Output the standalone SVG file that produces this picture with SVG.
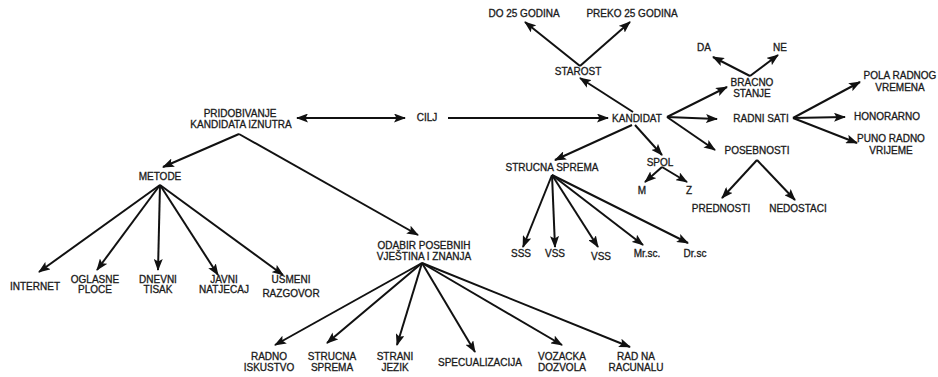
<svg xmlns="http://www.w3.org/2000/svg" width="938" height="377" viewBox="0 0 938 377">
<style>
text{font-family:"Liberation Sans",Arial,sans-serif;font-size:10px;fill:#1a1a1a;stroke:#1a1a1a;stroke-width:0.3;text-anchor:middle}
.c line{stroke:#111;stroke-width:2;marker-end:url(#ah)}
</style>
<defs>
<marker id="ah" markerUnits="userSpaceOnUse" markerWidth="12" markerHeight="9" refX="11" refY="4.5" orient="auto-start-reverse"><path d="M0,0 L12,4.5 L0,9 L2.5,4.5 z" fill="#111"/></marker>
</defs>
<rect width="938" height="377" fill="#fff"/>
<g class="c" id="connectors">
<line x1="580" y1="66" x2="525" y2="22"/>
<line x1="580" y1="66" x2="630" y2="22"/>
<line x1="633" y1="112" x2="580" y2="78"/>
<line x1="667" y1="117" x2="727" y2="87"/>
<line x1="667" y1="117" x2="717" y2="119"/>
<line x1="667" y1="117" x2="715" y2="150"/>
<line x1="750" y1="76" x2="713" y2="57"/>
<line x1="750" y1="76" x2="778" y2="55"/>
<line x1="793" y1="118" x2="860" y2="82"/>
<line x1="793" y1="118" x2="845" y2="117"/>
<line x1="793" y1="118" x2="857" y2="143"/>
<line x1="757" y1="160" x2="722" y2="198"/>
<line x1="757" y1="160" x2="795" y2="200"/>
<line x1="448" y1="118" x2="608" y2="118"/>
<line x1="297" y1="118" x2="405" y2="118" style="marker-start:url(#ah)"/>
<line x1="239" y1="134" x2="163" y2="167"/>
<line x1="239" y1="134" x2="418" y2="235"/>
<line x1="160" y1="185" x2="39" y2="272"/>
<line x1="160" y1="185" x2="97" y2="270"/>
<line x1="160" y1="185" x2="158" y2="270"/>
<line x1="160" y1="185" x2="218" y2="275"/>
<line x1="160" y1="185" x2="283" y2="275"/>
<line x1="422" y1="263" x2="275" y2="345"/>
<line x1="422" y1="263" x2="327" y2="343"/>
<line x1="422" y1="263" x2="397" y2="345"/>
<line x1="422" y1="263" x2="475" y2="352"/>
<line x1="422" y1="263" x2="562" y2="345"/>
<line x1="422" y1="263" x2="630" y2="347"/>
<line x1="632" y1="125" x2="555" y2="160"/>
<line x1="635" y1="125" x2="662" y2="155"/>
<line x1="662" y1="167" x2="645" y2="182"/>
<line x1="662" y1="167" x2="687" y2="182"/>
<line x1="552" y1="175" x2="523" y2="247"/>
<line x1="552" y1="175" x2="555" y2="247"/>
<line x1="552" y1="175" x2="598" y2="247"/>
<line x1="552" y1="175" x2="643" y2="245"/>
<line x1="552" y1="175" x2="688" y2="243"/>
</g>
<g id="do25"><text x="524" y="17">DO 25 GODINA</text></g>
<g id="preko25"><text x="632" y="17">PREKO 25 GODINA</text></g>
<g id="starost"><text x="578" y="75">STAROST</text></g>
<g id="kandidat"><text x="637" y="122">KANDIDAT</text></g>
<g id="cilj"><text x="427" y="121">CILJ</text></g>
<g id="pridobivanje"><text x="240" y="117">PRIDOBIVANJE</text><text x="241" y="128">KANDIDATA IZNUTRA</text></g>
<g id="metode"><text x="160" y="180">METODE</text></g>
<g id="internet"><text x="35" y="290">INTERNET</text></g>
<g id="oglasne"><text x="95" y="283">OGLASNE</text><text x="95" y="293">PLOCE</text></g>
<g id="dnevni"><text x="158" y="283">DNEVNI</text><text x="158" y="293">TISAK</text></g>
<g id="javni"><text x="224" y="283">JAVNI</text><text x="224" y="293">NATJECAJ</text></g>
<g id="usmeni"><text x="291" y="283">USMENI</text><text x="291" y="297">RAZGOVOR</text></g>
<g id="odabir"><text x="424" y="249">ODABIR POSEBNIH</text><text x="424" y="260">VJEŠTINA I ZNANJA</text></g>
<g id="radno"><text x="269" y="360">RADNO</text><text x="269" y="371">ISKUSTVO</text></g>
<g id="strucna2"><text x="332" y="360">STRUCNA</text><text x="332" y="371">SPREMA</text></g>
<g id="strani"><text x="395" y="360">STRANI</text><text x="395" y="371">JEZIK</text></g>
<g id="specualizacija"><text x="480" y="366">SPECUALIZACIJA</text></g>
<g id="vozacka"><text x="562" y="360">VOZACKA</text><text x="562" y="371">DOZVOLA</text></g>
<g id="radnaracunalu"><text x="636" y="360">RAD NA</text><text x="636" y="371">RACUNALU</text></g>
<g id="strucna"><text x="552" y="171">STRUCNA SPREMA</text></g>
<g id="spol"><text x="660" y="166">SPOL</text></g>
<g id="m"><text x="642" y="194">M</text></g>
<g id="z"><text x="689" y="194">Z</text></g>
<g id="sss"><text x="521" y="257">SSS</text></g>
<g id="vss1"><text x="555" y="257">VSS</text></g>
<g id="vss2"><text x="601" y="260">VSS</text></g>
<g id="mrsc"><text x="647" y="257">Mr.sc.</text></g>
<g id="drsc"><text x="695" y="257">Dr.sc</text></g>
<g id="bracno"><text x="752" y="86">BRACNO</text><text x="752" y="97">STANJE</text></g>
<g id="da"><text x="704" y="51">DA</text></g>
<g id="ne"><text x="780" y="51">NE</text></g>
<g id="radnisati"><text x="761" y="122">RADNI SATI</text></g>
<g id="posebnosti"><text x="757" y="154">POSEBNOSTI</text></g>
<g id="pola"><text x="900" y="79">POLA RADNOG</text><text x="900" y="91">VREMENA</text></g>
<g id="honorarno"><text x="887" y="120">HONORARNO</text></g>
<g id="puno"><text x="891" y="142">PUNO RADNO</text><text x="891" y="154">VRIJEME</text></g>
<g id="prednosti"><text x="721" y="212">PREDNOSTI</text></g>
<g id="nedostaci"><text x="798" y="212">NEDOSTACI</text></g>
</svg>
